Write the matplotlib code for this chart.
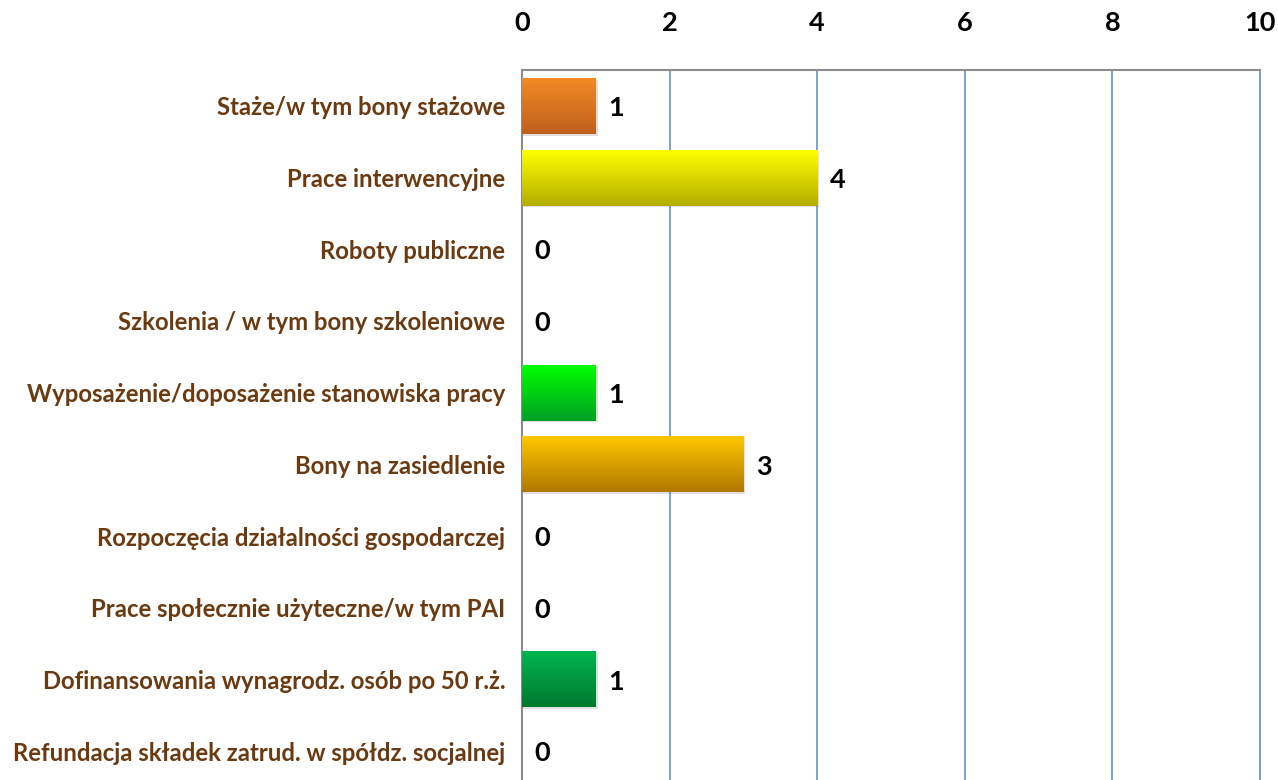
import numpy as np
import matplotlib
matplotlib.use("Agg")
import matplotlib.pyplot as plt
from matplotlib.colors import LinearSegmentedColormap

plt.rcParams['font.family'] = ['Lato', 'DejaVu Sans']

categories = [
    "Staże/w tym bony stażowe",
    "Prace interwencyjne",
    "Roboty publiczne",
    "Szkolenia / w tym bony szkoleniowe",
    "Wyposażenie/doposażenie stanowiska pracy",
    "Bony na zasiedlenie",
    "Rozpoczęcia działalności gospodarczej",
    "Prace społecznie użyteczne/w tym PAI",
    "Dofinansowania wynagrodz. osób po 50 r.ż.",
    "Refundacja składek zatrud. w spółdz. socjalnej",
]
values = [1, 4, 0, 0, 1, 3, 0, 0, 1, 0]
x_ticks = [0, 2, 4, 6, 8, 10]

# (top, bottom) gradient colours
bar_colors = [
    ("#f28a26", "#bf5f1c"),
    ("#ffff00", "#b3ad00"),
    ("#cccccc", "#999999"),
    ("#cccccc", "#999999"),
    ("#00ff00", "#00a025"),
    ("#ffc800", "#b07800"),
    ("#cccccc", "#999999"),
    ("#cccccc", "#999999"),
    ("#00b550", "#00782f"),
    ("#cccccc", "#999999"),
]

fig = plt.figure(figsize=(12.78, 7.8), dpi=100)
ax = fig.add_axes([522 / 1278, -7 / 780, 738 / 1278, 717 / 780])

y = np.arange(len(categories))
bars = ax.barh(y, values, height=0.78, color="none", zorder=3)

grad = np.linspace(0, 1, 256).reshape(-1, 1)
for b, (c_top, c_bot), v in zip(bars, bar_colors, values):
    if v <= 0:
        continue
    x0, y0 = b.get_x(), b.get_y()
    w, h = b.get_width(), b.get_height()
    # soft shadow
    sh = plt.Rectangle((x0, y0 + 0.025), w + 0.025, h, color="#000000", alpha=0.12,
                       zorder=2, lw=0)
    ax.add_patch(sh)
    cmap = LinearSegmentedColormap.from_list("g", [c_top, c_bot])
    im = ax.imshow(grad, cmap=cmap, aspect="auto", extent=(x0, x0 + w, y0 + h, y0),
                   zorder=3)
    im.set_clip_path(b)

ax.set_xlim(0, 10)
ax.set_ylim(len(categories) - 0.5, -0.5)

for yi, v in zip(y, values):
    ax.text(v + 0.17, yi + 0.03, str(v), va="center", ha="left",
            fontsize=19.5, fontweight="bold", color="black", zorder=5)

ax.xaxis.tick_top()
ax.set_xticks(x_ticks)
ax.set_xticklabels([str(t) for t in x_ticks], fontsize=19.5, fontweight="bold")
ax.tick_params(axis="x", length=0, pad=25)
ax.set_yticks(y)
ax.set_yticklabels(categories, fontsize=17.2, fontweight="bold", color="#6b3a10")
ax.tick_params(axis="y", length=0, pad=12)

ax.grid(axis="x", color="#6f9bd3", linewidth=1.3, zorder=0)
ax.set_axisbelow(True)
for s in ["top", "left"]:
    ax.spines[s].set_color("#8c8c8c")
    ax.spines[s].set_linewidth(1.5)
ax.spines["right"].set_color("#6f9bd3")
ax.spines["right"].set_linewidth(1.3)
ax.spines["bottom"].set_visible(False)

fig.savefig("out.png", dpi=100)
